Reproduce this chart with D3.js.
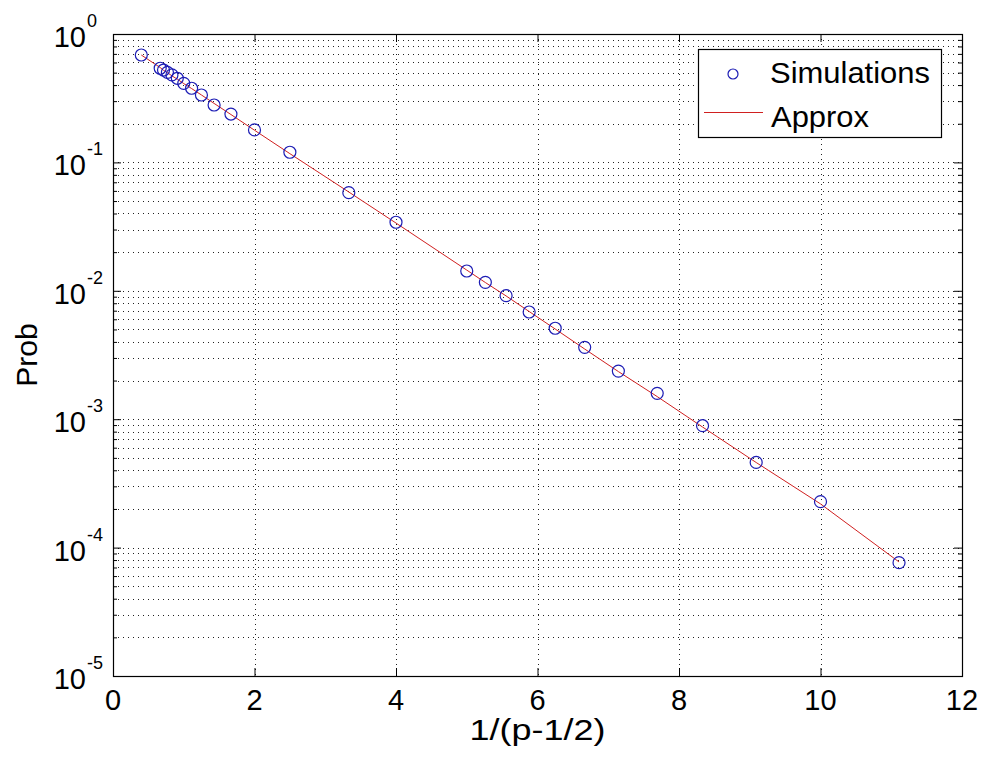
<!DOCTYPE html>
<html><head><meta charset="utf-8">
<script src="https://cdn.jsdelivr.net/npm/d3@7"></script>
<style>body{margin:0;background:#fff}svg{display:block}text{font-family:Arial,"Liberation Sans",sans-serif;fill:#000}</style>
</head><body>
<svg id="chart" width="985" height="757"></svg>
<script>
const xValues = [0.4, 0.667, 0.714, 0.769, 0.833, 0.909, 1.0, 1.111, 1.25, 1.429, 1.667, 2.0, 2.5, 3.333, 4.0, 5.0, 5.263, 5.556, 5.882, 6.25, 6.667, 7.143, 7.692, 8.333, 9.091, 10.0, 11.11];
const simulations = [0.686, 0.541, 0.524, 0.503, 0.480, 0.452, 0.413, 0.378, 0.335, 0.280, 0.238, 0.179, 0.120, 0.0581, 0.0342, 0.01426, 0.01164, 0.00916, 0.00684, 0.00511, 0.00363, 0.00237, 0.00159, 0.000890, 0.000461, 0.000228, 0.0000763];
const approx = [0.686, 0.548, 0.521, 0.500, 0.472, 0.445, 0.411, 0.376, 0.335, 0.288, 0.236, 0.178, 0.117, 0.0588, 0.0337, 0.0145, 0.0116, 0.00912, 0.00690, 0.00504, 0.00352, 0.00235, 0.00150, 0.000869, 0.000460, 0.000219, 0.0000773];
const xTicks = [0, 2, 4, 6, 8, 10, 12];
const yExponents = [0, -1, -2, -3, -4, -5];
const seriesNames = ["Simulations", "Approx"];
const xLabel = "1/(p-1/2)";
const yLabel = "Prob";

const L = 113, R = 962, T = 34, B = 676;
const svg = d3.select("#chart");
const x = d3.scaleLinear().domain([0, 12]).range([L, R]);
const y = d3.scaleLog().domain([1e-5, 1]).range([B, T]);

// grid
const grid = svg.append("g").attr("stroke", "#222").attr("stroke-width", 1).attr("stroke-dasharray", "1,4").attr("fill", "none");
const minorVals = [];
yExponents.slice(1).forEach(e => { for (let m = 1; m <= 9; m++) minorVals.push(m * Math.pow(10, e)); });
minorVals.forEach(v => { if (v < 1 && v >= 1e-5) grid.append("line").attr("x1", L).attr("x2", R).attr("y1", Math.round(y(v)) + 0.5).attr("y2", Math.round(y(v)) + 0.5); });
xTicks.slice(1, -1).forEach(t => grid.append("line").attr("x1", Math.round(x(t)) + 0.5).attr("x2", Math.round(x(t)) + 0.5).attr("y1", T).attr("y2", B));

// axes ticks via d3 axes
const axB = d3.axisBottom(x).tickValues(xTicks).tickSizeInner(-8).tickSizeOuter(0).tickFormat("");
const axT = d3.axisTop(x).tickValues(xTicks).tickSizeInner(-8).tickSizeOuter(0).tickFormat("");
svg.append("g").attr("transform", `translate(0,${B})`).call(axB);
svg.append("g").attr("transform", `translate(0,${T})`).call(axT);
const majorY = yExponents.map(e => Math.pow(10, e));
const minorY = minorVals.filter(v => v < 1 && !majorY.some(m => Math.abs(m - v) / v < 1e-9));
svg.append("g").attr("transform", `translate(${L},0)`).call(d3.axisLeft(y).tickValues(majorY).tickSizeInner(-8).tickSizeOuter(0).tickFormat(""));
svg.append("g").attr("transform", `translate(${L},0)`).call(d3.axisLeft(y).tickValues(minorY).tickSizeInner(-4).tickSizeOuter(0).tickFormat(""));
svg.append("g").attr("transform", `translate(${R},0)`).call(d3.axisRight(y).tickValues(majorY).tickSizeInner(-8).tickSizeOuter(0).tickFormat(""));
svg.append("g").attr("transform", `translate(${R},0)`).call(d3.axisRight(y).tickValues(minorY).tickSizeInner(-4).tickSizeOuter(0).tickFormat(""));
svg.selectAll(".domain").remove();
svg.selectAll(".tick line").attr("stroke", "#000");
svg.append("rect").attr("x", L + 0.5).attr("y", T + 0.5).attr("width", R - L).attr("height", B - T).attr("fill", "none").attr("stroke", "#000").attr("stroke-width", 1.2);

// tick labels
xTicks.forEach(t => svg.append("text").attr("x", x(t)).attr("y", 710).attr("text-anchor", "middle").attr("font-size", 29).text(t));
yExponents.forEach(e => {
  const yy = y(Math.pow(10, e));
  svg.append("text").attr("x", 86).attr("y", yy + 13).attr("text-anchor", "end").attr("font-size", 29).text("10");
  svg.append("text").attr("x", 87).attr("y", yy - 7).attr("font-size", 18).text(e);
});

// axis labels
svg.append("text").attr("x", (L + R) / 2).attr("y", 740).attr("text-anchor", "middle").attr("font-size", 30)
  .attr("textLength", 136).attr("lengthAdjust", "spacingAndGlyphs").text(xLabel);
svg.append("text").attr("transform", `translate(37,${(T + B) / 2}) rotate(-90)`).attr("text-anchor", "middle").attr("font-size", 30).text(yLabel);

// approx line
const line = d3.line().x((d, i) => x(xValues[i])).y(d => y(d));
svg.append("path").datum(approx).attr("d", line).attr("fill", "none").attr("stroke", "#d02020").attr("stroke-width", 1);

// simulations
svg.append("g").selectAll("circle").data(simulations).join("circle")
  .attr("cx", (d, i) => x(xValues[i])).attr("cy", d => y(d)).attr("r", 6)
  .attr("fill", "none").attr("stroke", "#1c1cb4").attr("stroke-width", 1.2);

// legend
const lg = svg.append("g");
lg.append("rect").attr("x", 698.5).attr("y", 49.5).attr("width", 243).attr("height", 88).attr("fill", "#fff").attr("stroke", "#000").attr("stroke-width", 1.2);
lg.append("circle").attr("cx", 733).attr("cy", 74).attr("r", 5).attr("fill", "none").attr("stroke", "#1c1cb4").attr("stroke-width", 1.2);
lg.append("line").attr("x1", 704).attr("x2", 763).attr("y1", 112.5).attr("y2", 112.5).attr("stroke", "#d02020").attr("stroke-width", 1);
lg.append("text").attr("x", 770).attr("y", 83).attr("font-size", 29).attr("textLength", 160).attr("lengthAdjust", "spacingAndGlyphs").text(seriesNames[0]);
lg.append("text").attr("x", 771).attr("y", 127).attr("font-size", 29).attr("textLength", 98).attr("lengthAdjust", "spacingAndGlyphs").text(seriesNames[1]);
</script>
</body></html>
